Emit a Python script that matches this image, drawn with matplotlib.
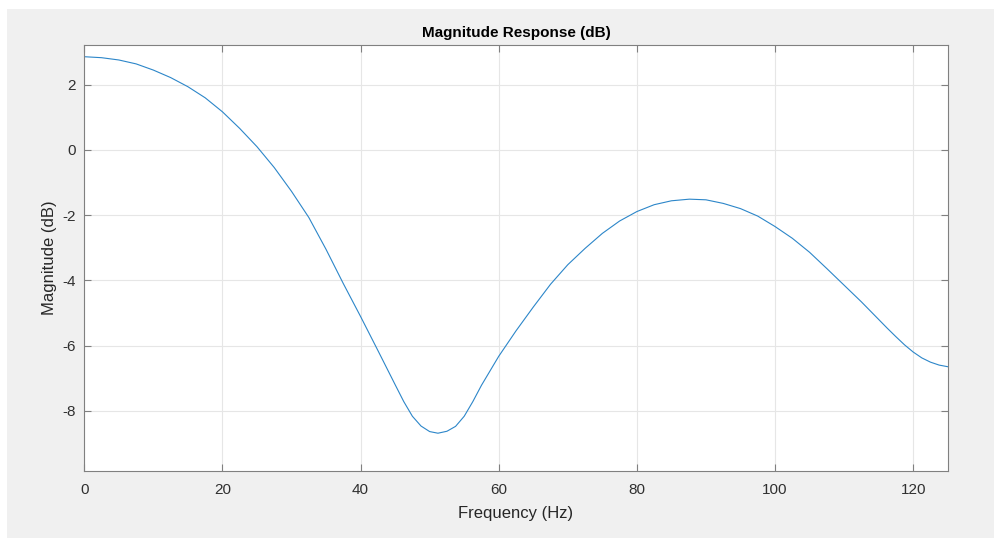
import numpy as np
import matplotlib.pyplot as plt
from matplotlib.patches import Rectangle

plt.rcParams["font.family"] = ["Liberation Sans", "DejaVu Sans"]
plt.rcParams["axes.unicode_minus"] = False

# values (Hz, dB)
freq = [0, 2.5, 5, 7.5, 10, 12.5, 15, 17.5, 20, 22.5, 25, 27.5, 30, 32.5, 35,
        37.5, 40, 42.5, 45, 46.25, 47.5, 48.75, 50, 51.2, 52.5, 53.75, 55, 56.25,
        57.5, 60, 62.5, 65, 67.5, 70, 72.5, 75, 77.5, 80, 82.5, 85, 87.6, 90,
        92.5, 95, 97.5, 100, 102.5, 105, 107.5, 110, 112.5, 115, 116.25, 117.5,
        118.75, 120, 121.25, 122.5, 123.75, 125]
mag = [2.86, 2.83, 2.76, 2.64, 2.45, 2.22, 1.94, 1.60, 1.17, 0.66, 0.10, -0.54,
       -1.27, -2.07, -3.05, -4.10, -5.11, -6.15, -7.20, -7.72, -8.17, -8.47, -8.64,
       -8.69, -8.63, -8.48, -8.17, -7.72, -7.22, -6.33, -5.55, -4.82, -4.12, -3.52,
       -3.02, -2.56, -2.18, -1.89, -1.68, -1.56, -1.51, -1.53, -1.64, -1.80, -2.03,
       -2.35, -2.71, -3.14, -3.64, -4.15, -4.66, -5.20, -5.47, -5.73, -5.98, -6.20,
       -6.38, -6.51, -6.60, -6.65]
xticks = [0, 20, 40, 60, 80, 100, 120]
yticks = [-8, -6, -4, -2, 0, 2]

fig = plt.figure(figsize=(9.95, 5.38), dpi=100, facecolor="white")
fig.patches.append(Rectangle((7 / 995, 0), 1, 529 / 538, transform=fig.transFigure,
                             facecolor="#f0f0f0", edgecolor="none", zorder=-1))

ax = fig.add_axes([0.0847, 0.1251, 0.8678, 0.7913])
ax.plot(freq, mag, color="#2c86c9", linewidth=0.8)

ax.set_xlim(0, 125)
ax.set_ylim(-9.84, 3.22)
ax.set_xticks(xticks)
ax.set_yticks(yticks)
ax.grid(True, color="#e6e6e6", linewidth=0.8)
ax.set_axisbelow(True)
ax.tick_params(direction="in", top=True, right=True, length=5, width=0.8,
               colors="#808080", labelcolor="#303030", labelsize=11)
ax.tick_params(axis="y", pad=6)
ax.tick_params(axis="x", pad=9)
for s in ax.spines.values():
    s.set_color("#808080")
    s.set_linewidth(0.8)

ax.set_title("Magnitude Response (dB)", fontsize=11, fontweight="bold", color="black", pad=6)
ax.set_xlabel("Frequency (Hz)", fontsize=12, color="#262626", labelpad=6)
ax.set_ylabel("Magnitude (dB)", fontsize=12, color="#262626", labelpad=4)

fig.savefig("out.png", dpi=100, facecolor=fig.get_facecolor())
